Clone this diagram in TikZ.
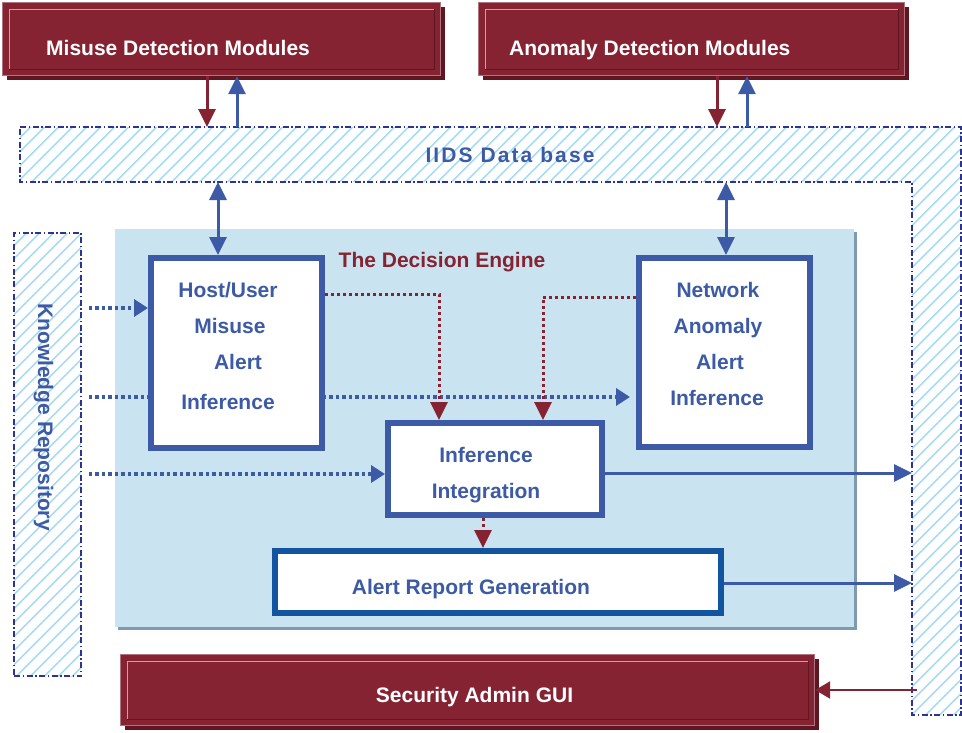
\documentclass[tikz,border=0pt]{standalone}
\usepackage{fontspec}
\setmainfont{Liberation Sans}
\usetikzlibrary{arrows.meta,patterns.meta,shadows}

\definecolor{modred}{HTML}{862332}
\definecolor{modredlight}{HTML}{B07480}
\definecolor{modredpale}{HTML}{C8A0A8}
\definecolor{modreddark}{HTML}{5E1620}
\definecolor{engblue}{HTML}{3C5AA6}
\definecolor{repblue}{HTML}{1354A0}
\definecolor{dbnavy}{HTML}{2E3290}
\definecolor{hatchblue}{HTML}{A8DCF4}
\definecolor{enginebg}{HTML}{C9E4F0}
\definecolor{engineshade}{HTML}{7F9AAE}

\pgfdeclarelayer{backdrop}
\pgfdeclarelayer{under}
\pgfsetlayers{backdrop,under,main}

% inner bevel of the dark red module boxes
\newcommand\bevellines[1]{%
  \draw[modredpale,line width=1pt]
    ([shift={(7,-7)}]#1.south west) -- ([shift={(7,7)}]#1.north west) -- ([shift={(-7,7)}]#1.north east);
  \draw[modreddark,line width=1.2pt]
    ([shift={(-7,7)}]#1.north east) -- ([shift={(-7,-7)}]#1.south east) -- ([shift={(7,-7)}]#1.south west);}

\tikzset{
  lbl/.style={font=\bfseries\fontsize{21}{25}\selectfont, inner sep=0pt, anchor=base},
  bluelbl/.style={lbl, text=engblue},
  whitelbl/.style={lbl, text=white},
  modbox/.style={rectangle, anchor=north west, fill=modred, draw=modredlight, line width=1.2pt,
    inner sep=0pt,
    drop shadow={shadow xshift=4pt, shadow yshift=-4pt, fill=modreddark, opacity=1}},
  engbox/.style={rectangle, draw=engblue, fill=white, line width=6pt, inner sep=0pt},
  engine/.style={rectangle, fill=enginebg, draw=none, inner sep=0pt, outer sep=0pt,
    drop shadow={shadow xshift=3pt, shadow yshift=-3pt, fill=engineshade, opacity=1}},
  hatched/.style={draw=dbnavy, line width=1.6pt,
    dash pattern=on 6pt off 2.5pt on 1.5pt off 2.5pt,
    pattern={Lines[angle=45,distance=10.5pt,line width=2pt]}, pattern color=hatchblue},
  bluearrow/.style={engblue, line width=3pt, -{Triangle[length=18pt,width=17pt]}},
  redarrow/.style={modred, line width=3pt, -{Triangle[length=18pt,width=17pt]}},
  bluedouble/.style={engblue, line width=3pt,
    {Triangle[length=18pt,width=17pt]}-{Triangle[length=18pt,width=17pt]}},
  redthin/.style={modred, line width=2.5pt, -{Triangle[length=15pt,width=17pt]}},
  dotblue/.style={engblue, line width=3.5pt, dash pattern=on 3.5pt off 3pt,
    -{Triangle[length=14pt,width=17pt]}},
  dotred/.style={modred, line width=3pt, dash pattern=on 3pt off 3pt,
    -{Triangle[length=18pt,width=17pt]}},
}

\begin{document}
\begin{tikzpicture}[x=1pt,y=-1pt]
\useasboundingbox (0,0) rectangle (962,732);

% IIDS data base: L-shaped band along the top and the right side
\coordinate (dbnw) at (20,127);
\coordinate (dbin) at (912,182);
\begin{pgfonlayer}{backdrop}
\draw[hatched] (dbnw) -- (961,127) -- (961,715) -- (912,715) -- (dbin) -- (20,182) -- cycle;
\node[bluelbl, font=\bfseries\fontsize{21}{25}\selectfont\addfontfeature{LetterSpace=10}]
  (dbl) at (510,162) {IIDS Data base};

% knowledge repository
\node[hatched, minimum width=67pt, minimum height=443pt, inner sep=0pt] (kr) at (47.5,454.5) {};
\node[bluelbl, rotate=-90] (krl) at (38,417) {Knowledge Repository};

% decision engine panel
\node[engine, minimum width=739pt, minimum height=398pt] (de) at (484.5,428) {};
\end{pgfonlayer}
\node[lbl, text=modred] (del) at (442,267) {The Decision Engine};

% module boxes
\node[modbox, minimum width=438pt, minimum height=73pt] (mdm) at (2,2) {};
\bevellines{mdm}
\node[whitelbl, anchor=base west] (mdml) at (46,55) {Misuse Detection Modules};

\node[modbox, minimum width=426pt, minimum height=73pt] (adm) at (478,2) {};
\bevellines{adm}
\node[whitelbl, anchor=base west] (adml) at (509,55) {Anomaly Detection Modules};

\node[modbox, minimum width=694pt, minimum height=71pt] (gui) at (120,654) {};
\bevellines{gui}
\node[whitelbl] (guil) at (474.5,702) {Security Admin GUI};

% inference boxes
\node[engbox, minimum width=171pt, minimum height=190pt] (hu) at (236.5,353) {};
\node[bluelbl] (hu1) at (228,297) {Host/User};
\node[bluelbl] (hu2) at (230,333) {Misuse};
\node[bluelbl] (hu3) at (238,369) {Alert};
\node[bluelbl] (hu4) at (228,409) {Inference};

\node[engbox, minimum width=171pt, minimum height=189pt] (nw) at (724.5,352.5) {};
\node[bluelbl] (nw1) at (718,297) {Network};
\node[bluelbl] (nw2) at (718,333) {Anomaly};
\node[bluelbl] (nw3) at (720,369) {Alert};
\node[bluelbl] (nw4) at (717,405) {Inference};

\node[engbox, minimum width=214pt, minimum height=92pt] (ii) at (495,469) {};
\node[bluelbl] (ii1) at (486,462) {Inference};
\node[bluelbl] (ii2) at (486,498) {Integration};

\node[engbox, draw=repblue, minimum width=446pt, minimum height=62pt] (ar) at (498,582) {};
\node[bluelbl] (arl) at (471,594) {Alert Report Generation};

% module <-> data base
\draw[redarrow] (207,0 |- mdm.south) -- (207,0 |- dbnw);
\draw[bluearrow] (237,0 |- dbnw) -- (237,0 |- mdm.south);
\draw[redarrow] (717,0 |- adm.south) -- (717,0 |- dbnw);
\draw[bluearrow] (747,0 |- dbnw) -- (747,0 |- adm.south);

% data base <-> inference boxes
\draw[bluedouble] (218,0 |- dbin) -- (218,0 |- hu.north);
\draw[bluedouble] (726,0 |- dbin) -- (726,0 |- nw.north);

% knowledge feeds
\draw[dotblue, shorten <=7pt] (kr.east |- 0,308) -- (hu.west |- 0,308);
\begin{pgfonlayer}{under}
\draw[dotblue, shorten <=7pt, shorten >=6pt] (kr.east |- 0,397) -- (nw.west |- 0,397);
\end{pgfonlayer}
\draw[dotblue, shorten <=7pt] (kr.east |- 0,474) -- (ii.west |- 0,474);

% alerts into integration and report
\draw[dotred] (hu.east |- 0,294) -| (439,0 |- ii.north);
\draw[dotred] (nw.west |- 0,297) -| (543,0 |- ii.north);
\draw[dotred] (483,0 |- ii.south) -- (483,0 |- ar.north);

% results to the data base
\draw[bluearrow] (ii.east |- 0,473) -- (dbin |- 0,473);
\draw[bluearrow] (ar.east |- 0,583) -- (dbin |- 0,583);

% data base to the admin GUI
\coordinate (guisrc) at (917,690);
\draw[redthin] (guisrc) -- (gui.east |- guisrc);
\end{tikzpicture}
\end{document}
